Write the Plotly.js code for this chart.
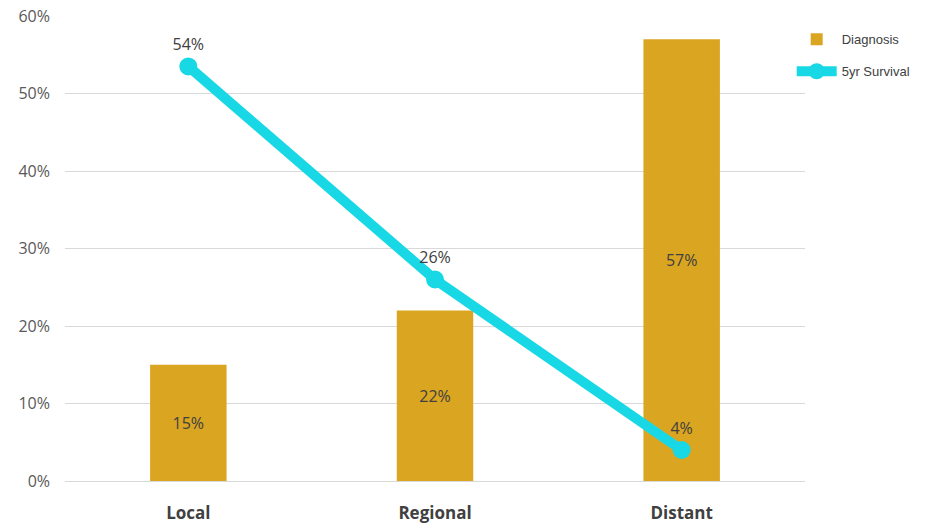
<!DOCTYPE html>
<html><head><meta charset="utf-8">
<script src="https://cdn.plot.ly/plotly-3.0.1.min.js"></script>
<style>body{margin:0;background:#fff}#c{width:932px;height:524px}</style>
</head><body><div id="c"></div>
<script>
var categories = ['Local', 'Regional', 'Distant'];
var diagnosis = [0.15, 0.22, 0.57];
var survival = [0.535, 0.26, 0.04];
var yTicks = [0, 0.1, 0.2, 0.3, 0.4, 0.5, 0.6];
var yTickLabels = ['0%', '10%', '20%', '30%', '40%', '50%', '60%'];

function pct(v){ return Math.round(v*100) + '%'; }

var bar = {
  type: 'bar', name: 'Diagnosis', x: categories, y: diagnosis,
  marker: {color: '#DAA520'}, width: 0.31,
  text: diagnosis.map(pct), textposition: 'inside', insidetextanchor: 'middle',
  textfont: {family: 'Open Sans', size: 16, color: '#404040'},
  hoverinfo: 'none', cliponaxis: false, legendgroup: 'a'
};
var line = {
  type: 'scatter', mode: 'lines+markers+text', name: '5yr Survival',
  x: categories, y: survival,
  line: {color: '#19D8E6', width: 10},
  marker: {color: '#19D8E6', size: 18},
  text: survival.map(pct), textposition: 'top center',
  textfont: {family: 'Open Sans', size: 16, color: '#404040'},
  hoverinfo: 'none', cliponaxis: false, legendgroup: 'b'
};
var layout = {
  width: 932, height: 524,
  margin: {l: 65, r: 127, t: 16, b: 43},
  paper_bgcolor: '#fff', plot_bgcolor: '#fff',
  showlegend: true,
  legend: {x: 0.982, xanchor: 'left', y: 0.982, yanchor: 'top',
    font: {family: 'Liberation Sans', size: 13, color: '#404040'},
    tracegroupgap: 12, traceorder: 'grouped', itemwidth: 40},
  xaxis: {tickfont: {family: 'Open Sans', size: 17, color: '#404040', weight: 'bold'},
    ticks: '', showline: false, ticklabelstandoff: 20, fixedrange: true},
  yaxis: {range: [0, 0.6], tickvals: yTicks, ticktext: yTickLabels,
    tickfont: {family: 'Open Sans', size: 16, color: '#595959'},
    gridcolor: '#D9D9D9', gridwidth: 1, zeroline: true, zerolinecolor: '#D9D9D9',
    showline: false, ticks: '', ticklabelstandoff: 14, fixedrange: true}
};
Plotly.newPlot('c', [bar, line], layout, {displayModeBar: false, staticPlot: true});
</script></body></html>
